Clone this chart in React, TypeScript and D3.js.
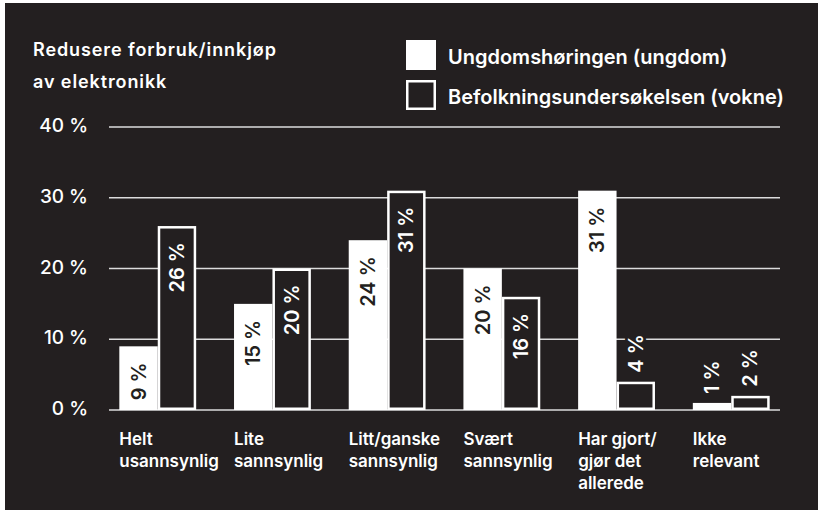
import React from "react";
import * as d3 from "d3";

const categories = [
  "Helt usannsynlig",
  "Lite sannsynlig",
  "Litt/ganske sannsynlig",
  "Svært sannsynlig",
  "Har gjort/ gjør det allerede",
  "Ikke relevant",
];
const categoryLines = [
  ["Helt", "usannsynlig"],
  ["Lite", "sannsynlig"],
  ["Litt/ganske", "sannsynlig"],
  ["Svært", "sannsynlig"],
  ["Har gjort/", "gjør det", "allerede"],
  ["Ikke", "relevant"],
];
const series = ["Ungdomshøringen (ungdom)", "Befolkningsundersøkelsen (vokne)"];
const ungdom = [9, 15, 24, 20, 31, 1];
const voksne = [26, 20, 31, 16, 4, 2];
const yTicks = [0, 10, 20, 30, 40];
const titleLines = ["Redusere forbruk/innkjøp", "av elektronikk"];

const BG = "#231f20";
const FG = "#ffffff";
const FONT = "Inter, 'Noto Sans', sans-serif";

export default function App() {
  const W = 818;
  const H = 511;

  const y = d3.scaleLinear().domain([0, 40]).range([410, 127]);
  const x = d3
    .scaleBand<string>()
    .domain(categories)
    .range([109, 780])
    .paddingInner(0.33)
    .paddingOuter(0.09);
  const xi = d3.scaleBand<string>().domain(series).range([0, x.bandwidth()]);
  const sw = 2.5;

  const bars = categories.flatMap((c, i) => [
    { c, s: series[0], v: ungdom[i], solid: true },
    { c, s: series[1], v: voksne[i], solid: false },
  ]);

  return (
    <svg
      width={W}
      height={H}
      style={{ position: "absolute", left: 0, top: 0, display: "block" }}
      fontFamily={FONT}
    >
      <rect x={0} y={0} width={W} height={H} fill="#ffffff" />
      <rect x={5} y={3} width={W - 5} height={H - 4} fill={BG} />

      {/* title */}
      {titleLines.map((t, i) => (
        <text
          key={t}
          x={33}
          y={56 + i * 32}
          fill={FG}
          fontSize={18}
          fontWeight={600}
          letterSpacing={0.9}
        >
          {t}
        </text>
      ))}

      {/* legend */}
      {series.map((s, i) => (
        <g key={s} transform={`translate(406,${40 + i * 40})`}>
          {i === 0 ? (
            <rect x={0} y={0} width={30} height={30} fill={FG} />
          ) : (
            <rect x={1.25} y={1.25} width={27.5} height={27.5} fill={BG} stroke={FG} strokeWidth={sw} />
          )}
          <text x={42} y={23.5} fill={FG} fontSize={20} fontWeight={600}>
            {s}
          </text>
        </g>
      ))}

      {/* grid + y ticks */}
      {yTicks.map((t) => (
        <g key={t}>
          <line x1={109} x2={780} y1={y(t)} y2={y(t)} stroke="#dcdcdc" strokeWidth={1.5} />
          <text x={88} y={y(t) + 5} textAnchor="end" fill={FG} fontSize={19} fontWeight={500}>
            {`${t} %`}
          </text>
        </g>
      ))}

      {/* bars */}
      {bars.map((b) => {
        const x0 = (x(b.c) ?? 0) + (xi(b.s) ?? 0);
        const w = xi.bandwidth();
        const top = y(b.v);
        return b.solid ? (
          <rect key={b.c + b.s} x={x0} y={top} width={w} height={y(0) - top} fill={FG} />
        ) : (
          <rect
            key={b.c + b.s}
            x={x0 + sw / 2}
            y={top + sw / 2}
            width={w - sw}
            height={y(0) - top - sw}
            fill={BG}
            stroke={FG}
            strokeWidth={sw}
          />
        );
      })}

      {/* value labels */}
      {bars.map((b) => {
        const cx = (x(b.c) ?? 0) + (xi(b.s) ?? 0) + xi.bandwidth() / 2;
        const top = y(b.v);
        const inside = b.v >= 5;
        const ly = inside ? top + 16 : top - 9;
        return (
          <text
            key={"l" + b.c + b.s}
            transform={`translate(${cx},${ly}) rotate(-90)`}
            textAnchor={inside ? "end" : "start"}
            dominantBaseline="central"
            fill={inside && b.solid ? BG : FG}
            stroke={inside ? "none" : BG}
            strokeWidth={inside ? 0 : 6}
            paintOrder="stroke"
            fontSize={20}
            fontWeight={600}
          >
            {`${b.v} %`}
          </text>
        );
      })}

      {/* category labels */}
      {categories.map((c, i) => (
        <text key={c} fill={FG} fontSize={17} fontWeight={600}>
          {categoryLines[i].map((l, j) => (
            <tspan key={j} x={x(c) ?? 0} y={445 + j * 22}>
              {l}
            </tspan>
          ))}
        </text>
      ))}
    </svg>
  );
}
